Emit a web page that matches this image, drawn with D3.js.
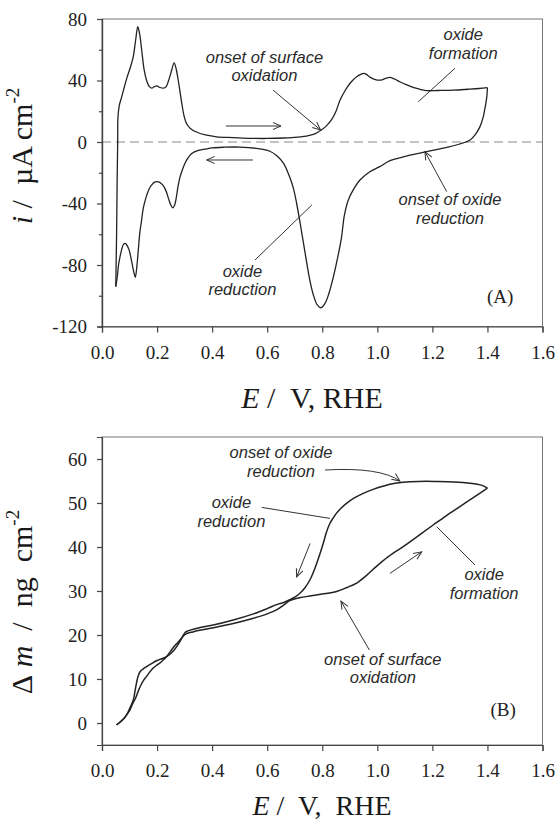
<!DOCTYPE html>
<html>
<head>
<meta charset="utf-8">
<script src="https://cdn.jsdelivr.net/npm/d3@7"></script>
<style>
  body { margin: 0; background: #fff; }
  svg { display: block; }
</style>
</head>
<body>
<svg id="figure"></svg>
<script>
// potential axis, shared by both panels (V vs RHE)
const potentialTicks = [0.0, 0.2, 0.4, 0.6, 0.8, 1.0, 1.2, 1.4, 1.6];
const currentTicks = [-120, -80, -40, 0, 40, 80];
const currentMinorTicks = [-100, -60, -20, 20, 60];
const massTicks = [0, 10, 20, 30, 40, 50, 60];

// panel A: cyclic voltammogram, [E / V, i / uA cm-2]
const cvAnodic = [
  [0.050, -94], [0.053, -60], [0.055, -25], [0.057, 0], [0.058, 16], [0.063, 24],
  [0.071, 29], [0.080, 35], [0.091, 42], [0.102, 48], [0.113, 55], [0.122, 66],
  [0.130, 75], [0.137, 70], [0.144, 60], [0.153, 47], [0.162, 40], [0.172, 36],
  [0.181, 35], [0.190, 36], [0.199, 36.5], [0.210, 35.5], [0.223, 35], [0.233, 36],
  [0.241, 39.5], [0.252, 46], [0.262, 51.5], [0.270, 47], [0.277, 40], [0.284, 32],
  [0.290, 25], [0.298, 17], [0.307, 12], [0.320, 9], [0.343, 6.5], [0.380, 4.4],
  [0.416, 3.4], [0.477, 2.9], [0.540, 2.4], [0.600, 2.3], [0.660, 2.6], [0.710, 3.2],
  [0.750, 4.2], [0.775, 5.5], [0.795, 7.6], [0.815, 10.5], [0.834, 14.5], [0.850, 20],
  [0.864, 27], [0.880, 32.5], [0.894, 36.5], [0.910, 40], [0.925, 42.4], [0.940, 44],
  [0.950, 44.6], [0.962, 43.8], [0.973, 42.2], [0.990, 40.8], [1.009, 40.2], [1.028, 41.2],
  [1.045, 42], [1.062, 41], [1.082, 39.2], [1.105, 37.3], [1.130, 35.5], [1.155, 34.3],
  [1.179, 33.4], [1.220, 33.5], [1.276, 33.7], [1.330, 34.3], [1.370, 34.8], [1.400, 35.3]
];
const cvCathodic = [
  [1.400, 35.3], [1.398, 30], [1.395, 26], [1.390, 21], [1.385, 16.5], [1.373, 10],
  [1.355, 4.6], [1.337, 1.3], [1.300, -1.3], [1.252, -3.5], [1.179, -6.3], [1.094, -9.7],
  [1.046, -12.1], [1.009, -16], [0.973, -19.3], [0.937, -24.7], [0.913, -31], [0.894, -38],
  [0.880, -48], [0.870, -62], [0.855, -76], [0.840, -88], [0.825, -98], [0.810, -105],
  [0.795, -107.8], [0.782, -106], [0.767, -99], [0.755, -90], [0.744, -79], [0.732, -66],
  [0.720, -53], [0.707, -40], [0.695, -30], [0.680, -22], [0.660, -14], [0.635, -9],
  [0.610, -6], [0.580, -4.6], [0.500, -3.3], [0.440, -3.4], [0.400, -3.8], [0.380, -4.4],
  [0.350, -5.5], [0.326, -7.5], [0.310, -11], [0.301, -14], [0.292, -18], [0.283, -23],
  [0.276, -29], [0.270, -36], [0.264, -41], [0.257, -42.8], [0.250, -41], [0.242, -37],
  [0.235, -33], [0.225, -29], [0.215, -27], [0.205, -26], [0.193, -26], [0.180, -28],
  [0.170, -31], [0.160, -36], [0.150, -43], [0.143, -52], [0.138, -58], [0.132, -70],
  [0.126, -82], [0.121, -88], [0.116, -85], [0.108, -78], [0.098, -70], [0.088, -66.5],
  [0.083, -66], [0.077, -67], [0.070, -71], [0.065, -75], [0.060, -80], [0.056, -87],
  [0.052, -92], [0.050, -94]
];

// panel B: mass change, [E / V, dm / ng cm-2]
const massAnodic = [
  [0.053, -0.4], [0.062, 0], [0.072, 0.6], [0.082, 1.2], [0.090, 1.9], [0.100, 2.8],
  [0.110, 4.2], [0.123, 5.8], [0.132, 7.3], [0.142, 8.7], [0.152, 9.8], [0.162, 10.6],
  [0.175, 11.7], [0.186, 12.5], [0.198, 13.1], [0.210, 13.6], [0.222, 14.3], [0.235, 15.1],
  [0.250, 16.4], [0.265, 17.6], [0.280, 18.6], [0.293, 19.6], [0.307, 20.3], [0.330, 20.7],
  [0.350, 21.0], [0.400, 21.6], [0.477, 22.6], [0.550, 23.8], [0.600, 24.8], [0.634, 25.7],
  [0.660, 26.8], [0.682, 27.8], [0.720, 28.5], [0.760, 28.9], [0.800, 29.3], [0.852, 29.9],
  [0.890, 30.8], [0.925, 31.8], [0.960, 33.5], [0.997, 35.6], [1.040, 37.8], [1.094, 40.1],
  [1.150, 42.6], [1.203, 45.0], [1.250, 47.1], [1.300, 49.2], [1.350, 51.3], [1.400, 53.4]
];
const massCathodic = [
  [1.400, 53.4], [1.380, 54.0], [1.336, 54.5], [1.280, 54.8], [1.215, 54.9], [1.150, 54.9],
  [1.094, 54.7], [1.050, 54.3], [1.020, 53.8], [0.985, 53.1], [0.949, 52.2], [0.915, 51.1],
  [0.888, 49.9], [0.868, 48.8], [0.852, 47.7], [0.840, 46.6], [0.828, 45.4], [0.815, 43.3],
  [0.804, 40.9], [0.792, 38.5], [0.780, 36.3], [0.768, 34.3], [0.755, 32.5], [0.738, 30.8],
  [0.719, 29.5], [0.700, 28.6], [0.682, 28.0], [0.660, 27.4], [0.634, 26.9], [0.600, 26.0],
  [0.550, 24.8], [0.477, 23.4], [0.400, 22.2], [0.350, 21.6], [0.307, 20.8], [0.300, 20.4],
  [0.280, 18.2], [0.258, 16.3], [0.235, 15.1], [0.200, 14.2], [0.180, 13.5], [0.162, 12.8],
  [0.150, 12.3], [0.140, 11.8], [0.132, 10.8], [0.126, 9.3], [0.120, 7.3], [0.114, 5.3],
  [0.100, 3.2], [0.090, 1.9], [0.075, 0.7], [0.062, 0.0], [0.053, -0.4]
];

const serif = "'Liberation Serif', 'Times New Roman', serif";
const sans = "'Liberation Sans', Arial, sans-serif";

function getFigureConfig() {
  const svg = d3.select("#figure")
    .attr("width", 555)
    .attr("height", 824);

  const defs = svg.append("defs");
  defs.append("marker")
    .attr("id", "head")
    .attr("viewBox", "-10 -6 12 12")
    .attr("refX", 0)
    .attr("refY", 0)
    .attr("markerWidth", 12)
    .attr("markerHeight", 12)
    .attr("markerUnits", "userSpaceOnUse")
    .attr("orient", "auto")
    .append("path")
    .attr("d", "M-8,-3.5L0,0L-8,3.5")
    .attr("fill", "none")
    .attr("stroke", "#333")
    .attr("stroke-width", 1);

  return svg;
}

function makePanel(svg, top, height, yDomain) {
  const margin = { left: 102, top: top };
  const width = 440.5;
  const g = svg.append("g")
    .attr("transform", `translate(${margin.left},${margin.top})`);
  const xScale = d3.scaleLinear().domain([0, 1.6]).range([0, width]);
  const yScale = d3.scaleLinear().domain(yDomain).range([height, 0]);

  // frame (top and right sides show as a lighter box)
  g.append("rect")
    .attr("width", width)
    .attr("height", height)
    .attr("fill", "none")
    .attr("stroke", "#777")
    .attr("stroke-width", 1);

  return { g, width, height, xScale, yScale };
}

function styleAxis(sel) {
  sel.select(".domain").attr("stroke", "#444").attr("stroke-width", 1.2);
  sel.selectAll(".tick line").attr("stroke", "#444").attr("stroke-width", 1.2);
  sel.selectAll("text")
    .attr("fill", "#222")
    .style("font-family", serif)
    .style("font-size", "19px");
}

function drawAxes(panel, yTicks, yMinor) {
  const { g, height, xScale, yScale } = panel;

  const axisX = d3.axisBottom(xScale)
    .tickValues(potentialTicks)
    .tickSize(6)
    .tickPadding(13)
    .tickFormat(d3.format(".1f"));
  g.append("g")
    .attr("transform", `translate(0,${height})`)
    .call(axisX)
    .call(styleAxis);

  if (yMinor) {
    g.append("g")
      .call(d3.axisLeft(yScale).tickValues(yMinor).tickSize(3).tickFormat(""))
      .call(styleAxis);
  }

  const axisY = d3.axisLeft(yScale)
    .tickValues(yTicks)
    .tickSize(5)
    .tickPadding(10)
    .tickFormat(d => String(d));
  g.append("g")
    .call(axisY)
    .call(styleAxis);
}

function drawCurve(panel, data, width) {
  const { g, xScale, yScale } = panel;
  g.append("path")
    .datum(data)
    .attr("d", d3.line()
      .x(d => xScale(d[0]))
      .y(d => yScale(d[1]))
      .curve(d3.curveCatmullRom.alpha(0.5)))
    .attr("fill", "none")
    .attr("stroke", "#222")
    .attr("stroke-width", width)
    .attr("stroke-linejoin", "round");
}

function addLabel(panel, E, v, lines) {
  const { g, xScale, yScale } = panel;
  const t = g.append("text")
    .attr("x", xScale(E))
    .attr("y", yScale(v))
    .attr("text-anchor", "middle")
    .attr("dy", "0.35em")
    .style("font-family", sans)
    .style("font-style", "italic")
    .style("font-size", "16.5px")
    .attr("fill", "#2a2a2a");
  lines.forEach((line, i) => {
    t.append("tspan")
      .attr("x", xScale(E))
      .attr("dy", i === 0 ? 0 : 18.5)
      .text(line);
  });
}

function addPointer(panel, from, to, head, ctrl) {
  const { g, xScale, yScale } = panel;
  const p = d3.path();
  p.moveTo(xScale(from[0]), yScale(from[1]));
  if (ctrl) {
    p.quadraticCurveTo(xScale(ctrl[0]), yScale(ctrl[1]), xScale(to[0]), yScale(to[1]));
  } else {
    p.lineTo(xScale(to[0]), yScale(to[1]));
  }
  g.append("path")
    .attr("d", p.toString())
    .attr("fill", "none")
    .attr("stroke", "#333")
    .attr("stroke-width", 1)
    .attr("marker-end", head ? "url(#head)" : null);
}

function addPanelTag(panel, E, v, tag) {
  const { g, xScale, yScale } = panel;
  g.append("text")
    .attr("x", xScale(E))
    .attr("y", yScale(v))
    .attr("dy", "0.35em")
    .attr("text-anchor", "middle")
    .style("font-family", serif)
    .style("font-size", "19px")
    .attr("fill", "#222")
    .text(tag);
}

function addTitles(svg, xY, xTitle, yTitle) {
  // x title
  const xt = svg.append("text")
    .attr("x", xTitle.x)
    .attr("y", xTitle.y)
    .attr("text-anchor", "middle")
    .style("font-family", serif)
    .style("font-size", xTitle.size + "px")
    .attr("fill", "#1a1a1a");
  xt.append("tspan").style("font-style", "italic").text("E");
  xt.append("tspan").text(xTitle.rest);

  // y title, rotated
  const yt = svg.append("text")
    .attr("transform", `translate(${xY},${yTitle.y}) rotate(-90)`)
    .attr("text-anchor", "middle")
    .style("font-family", serif)
    .style("font-size", "30px")
    .attr("fill", "#1a1a1a");
  yTitle.parts.forEach(part => {
    const s = yt.append("tspan").text(part.text);
    if (part.italic) s.style("font-style", "italic");
    if (part.sup) s.attr("dy", -13).style("font-size", "19px");
  });
}

function renderFigure() {
  const svg = getFigureConfig();

  // ---- panel A: current ----
  const a = makePanel(svg, 19, 307.5, [-120, 80]);
  a.g.append("line")
    .attr("x1", 0)
    .attr("x2", a.width)
    .attr("y1", a.yScale(0))
    .attr("y2", a.yScale(0))
    .attr("stroke", "#888")
    .attr("stroke-width", 1.2)
    .attr("stroke-dasharray", "9,5");
  drawAxes(a, currentTicks, currentMinorTicks);
  drawCurve(a, cvAnodic, 1.3);
  drawCurve(a, cvCathodic, 1.3);

  addLabel(a, 0.590, 51.6, ["onset of surface", "oxidation"]);
  addPointer(a, [0.621, 33.8], [0.794, 7.8], true);
  addLabel(a, 1.312, 66.3, ["oxide", "formation"]);
  addPointer(a, [1.282, 47.9], [1.149, 26.2], false);
  addPointer(a, [0.450, 10.4], [0.650, 10.4], true);
  addPointer(a, [0.548, -11.7], [0.380, -11.7], true);
  addLabel(a, 1.264, -41, ["onset of oxide", "reduction"]);
  addPointer(a, [1.252, -32.3], [1.173, -6.3], true);
  addLabel(a, 0.510, -87.6, ["oxide", "reduction"]);
  addPointer(a, [0.556, -76.7], [0.762, -41], false);
  addPanelTag(a, 1.446, -100.6, "(A)");

  addTitles(svg, 32,
    { x: 312, y: 408, size: 30, rest: "\u00a0/\u00a0 V, RHE" },
    { y: 156, parts: [
      { text: "i", italic: true },
      { text: "\u00a0/\u00a0 \u00b5A cm" },
      { text: "-2", sup: true }
    ] });

  // ---- panel B: mass ----
  const b = makePanel(svg, 437, 308, [-5, 65]);
  drawAxes(b, massTicks, null);
  drawCurve(b, massAnodic, 1.5);
  drawCurve(b, massCathodic, 1.5);

  addLabel(b, 0.650, 60.2, ["onset of oxide", "reduction"]);
  addPointer(b, [0.810, 57.5], [1.082, 55.0], true, [1.010, 58.2]);
  addLabel(b, 0.470, 48.8, ["oxide", "reduction"]);
  addPointer(b, [0.580, 49.0], [0.828, 46.5], false);
  addPointer(b, [0.756, 40.8], [0.707, 33.2], true);
  addPointer(b, [1.046, 34.0], [1.161, 38.9], true);
  addLabel(b, 1.388, 32.5, ["oxide", "formation"]);
  addPointer(b, [1.355, 35.9], [1.216, 44.6], false);
  addLabel(b, 1.020, 13.2, ["onset of surface", "oxidation"]);
  addPointer(b, [0.971, 16.6], [0.868, 27.7], true);
  addPanelTag(b, 1.457, 3.0, "(B)");

  addTitles(svg, 32,
    { x: 322, y: 815, size: 28, rest: "\u00a0/\u00a0 V,\u00a0 RHE" },
    { y: 602, parts: [
      { text: "\u0394\u00a0" },
      { text: "m", italic: true },
      { text: "\u00a0 /\u00a0 ng\u00a0 cm" },
      { text: "-2", sup: true }
    ] });
}

renderFigure();
</script>
</body>
</html>
